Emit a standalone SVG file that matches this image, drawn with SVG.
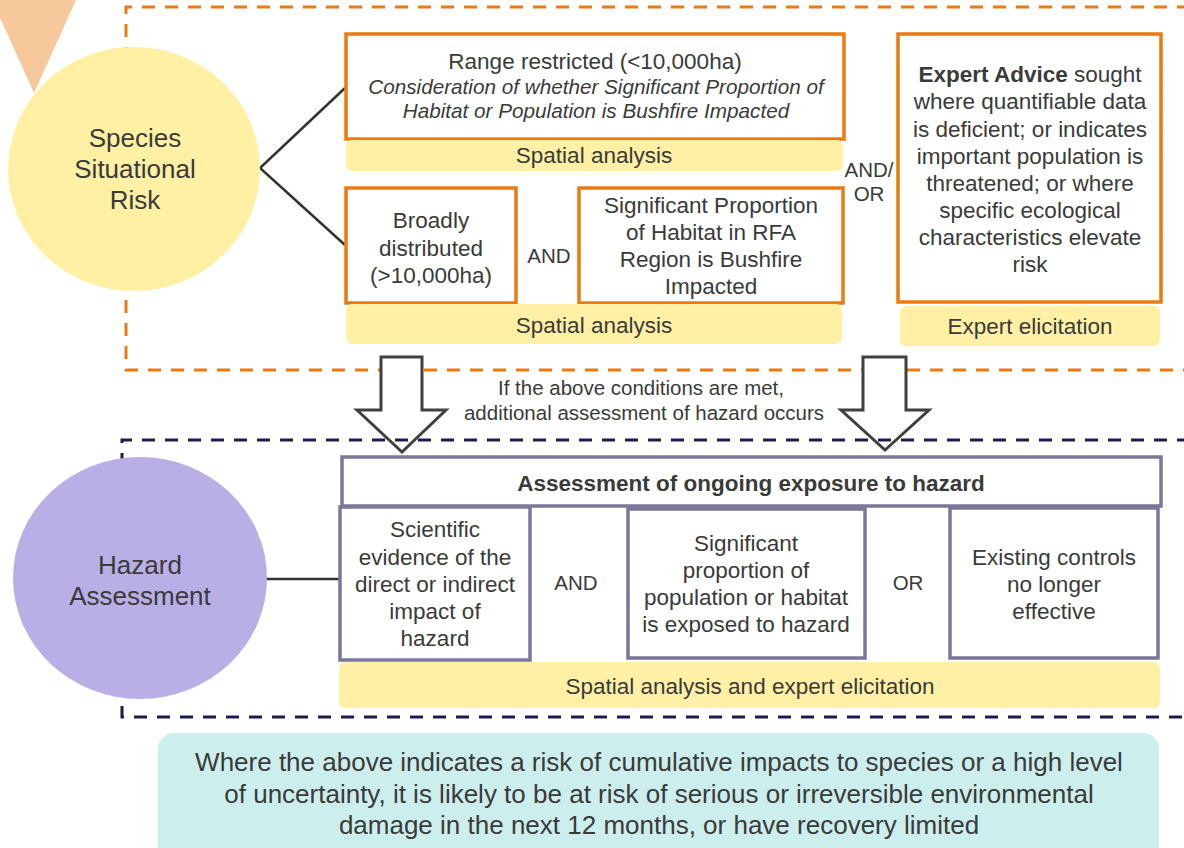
<svg xmlns="http://www.w3.org/2000/svg" width="1184" height="848" viewBox="0 0 1184 848">
<defs>
<style>
text{font-family:"Liberation Sans",Arial,sans-serif;fill:#3a3a3a;text-anchor:middle}
.t22{font-size:22.5px}
.t20{font-size:20.5px}
.t26{font-size:26px}
.it{font-size:20.7px;font-style:italic}
.b{font-weight:bold}
.big{font-size:26px}
.ob{fill:#fff;stroke:#ec7a10;stroke-width:3.5}
.pb{fill:#fff;stroke:#7c7699;stroke-width:3.5}
.yl{fill:#fff0a6}
.dash-o{fill:none;stroke:#ec7a10;stroke-width:3;stroke-dasharray:13 10}
.dash-n{fill:none;stroke:#1f1a4e;stroke-width:3;stroke-dasharray:13 10}
.conn{fill:none;stroke:#333;stroke-width:2.5}
.arrow{fill:#fff;stroke:#404040;stroke-width:3;stroke-linejoin:miter}
</style>
</defs>
<rect width="1184" height="848" fill="#fff"/>
<polygon points="-8,0 76,0 34,93" fill="#f6c89c"/>
<path class="dash-o" d="M1190,7 H126 V370 H1190"/>
<g id="arrows">
<polygon class="arrow" points="381,357 422,357 422,410 446,410 402,452 357,410 381,410"/>
<polygon class="arrow" points="863,357 906,357 906,410 929,410 885,450 841,410 863,410"/>
</g>
<path class="dash-n" d="M1190,440 H122 V717 H1190"/>
<g id="connectors">
<polyline class="conn" points="345,88 260,168 345,245"/>
<line class="conn" x1="266" y1="579" x2="340" y2="579"/>
</g>
<g id="species">
<ellipse cx="134" cy="169" rx="126" ry="122" fill="#fff0a4"/>
<text class="t26" x="135" y="147">Species</text>
<text class="t26" x="135" y="178">Situational</text>
<text class="t26" x="135" y="209">Risk</text>
</g>
<g id="range">
<rect class="ob" x="346" y="34" width="498" height="105"/>
<text class="t22" x="595" y="69">Range restricted (&lt;10,000ha)</text>
<text class="it" x="596" y="94">Consideration of whether Significant Proportion of</text>
<text class="it" x="596" y="118">Habitat or Population is Bushfire Impacted</text>
</g>
<g id="spatial1">
<rect class="yl" x="346" y="140" width="497" height="31" rx="6"/>
<text class="t22" x="594" y="163">Spatial analysis</text>
</g>
<g id="broad">
<rect class="ob" x="346" y="188" width="170" height="115"/>
<text class="t22" x="431" y="228">Broadly</text>
<text class="t22" x="431" y="256">distributed</text>
<text class="t22" x="431" y="283">(&gt;10,000ha)</text>
</g>
<text class="t20" x="549" y="263">AND</text>
<g id="sigprop">
<rect class="ob" x="579" y="188" width="264" height="115"/>
<text class="t22" x="711" y="213">Significant Proportion</text>
<text class="t22" x="711" y="240">of Habitat in RFA</text>
<text class="t22" x="711" y="267">Region is Bushfire</text>
<text class="t22" x="711" y="294">Impacted</text>
</g>
<g id="spatial2">
<rect class="yl" x="346" y="304" width="496" height="40" rx="6"/>
<text class="t22" x="594" y="333">Spatial analysis</text>
</g>
<text class="t20" x="869" y="177">AND/</text>
<text class="t20" x="869" y="201">OR</text>
<g id="expert">
<rect class="ob" x="898" y="34" width="263" height="268"/>
<text class="t22" x="1030" y="82"><tspan class="b">Expert Advice</tspan> sought</text>
<text class="t22" x="1030" y="109">where quantifiable data</text>
<text class="t22" x="1030" y="137">is deficient; or indicates</text>
<text class="t22" x="1030" y="164">important population is</text>
<text class="t22" x="1030" y="191">threatened; or where</text>
<text class="t22" x="1030" y="218">specific ecological</text>
<text class="t22" x="1030" y="245">characteristics elevate</text>
<text class="t22" x="1030" y="272">risk</text>
</g>
<g id="expert-elic">
<rect class="yl" x="900" y="306" width="260" height="40" rx="6"/>
<text class="t22" x="1030" y="334">Expert elicitation</text>
</g>
<text class="t20" x="641" y="395">If the above conditions are met,</text>
<text class="t20" x="644" y="420">additional assessment of hazard occurs</text>
<g id="hazard">
<ellipse cx="140" cy="578" rx="127" ry="121" fill="#b9aee6"/>
<text class="t26" x="140" y="574">Hazard</text>
<text class="t26" x="140" y="605">Assessment</text>
</g>
<g id="header">
<rect class="pb" x="342" y="457" width="819" height="49"/>
<text class="t22 b" x="751" y="491">Assessment of ongoing exposure to hazard</text>
</g>
<g id="scientific">
<rect class="pb" x="340" y="507" width="190" height="153"/>
<text class="t22" x="435" y="537">Scientific</text>
<text class="t22" x="435" y="565">evidence of the</text>
<text class="t22" x="435" y="592">direct or indirect</text>
<text class="t22" x="435" y="619">impact of</text>
<text class="t22" x="435" y="646">hazard</text>
</g>
<text class="t20" x="576" y="590">AND</text>
<g id="exposed">
<rect class="pb" x="628" y="509" width="237" height="149"/>
<text class="t22" x="746" y="551">Significant</text>
<text class="t22" x="746" y="578">proportion of</text>
<text class="t22" x="746" y="605">population or habitat</text>
<text class="t22" x="746" y="632">is exposed to hazard</text>
</g>
<text class="t20" x="908" y="590">OR</text>
<g id="controls">
<rect class="pb" x="950" y="508" width="208" height="150"/>
<text class="t22" x="1054" y="565">Existing controls</text>
<text class="t22" x="1054" y="592">no longer</text>
<text class="t22" x="1054" y="619">effective</text>
</g>
<g id="spatial-expert">
<rect class="yl" x="339" y="662" width="821" height="46" rx="6"/>
<text class="t22" x="750" y="694">Spatial analysis and expert elicitation</text>
</g>
<g id="conclusion">
<rect x="158" y="733" width="1001" height="130" rx="16" fill="#ccefed"/>
<text class="big" x="659" y="771">Where the above indicates a risk of cumulative impacts to species or a high level</text>
<text class="big" x="659" y="803">of uncertainty, it is likely to be at risk of serious or irreversible environmental</text>
<text class="big" x="659" y="834">damage in the next 12 months, or have recovery limited</text>
</g>
</svg>
